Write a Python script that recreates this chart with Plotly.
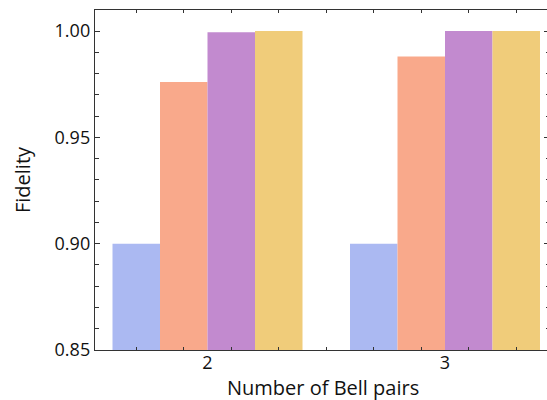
import plotly.graph_objects as go

# Fidelity per number of Bell pairs, one bar per method
bell_pairs = [2, 3]
series_names = ["Series 1", "Series 2", "Series 3", "Series 4"]
series_values = [
    [0.900, 0.900],
    [0.976, 0.988],
    [0.9994, 1.000],
    [1.000, 1.000],
]
series_colors = ["#ABB9F2", "#F9A98B", "#C28ACF", "#F0CC7A"]

y_range = [0.85, 1.0099]
x_range = [1.5263, 3.4295]

AXIS = "#333333"
TEXT = "#111111"
FONT = "Open Sans"

fig = go.Figure()
for name, vals, col in zip(series_names, series_values, series_colors):
    fig.add_trace(go.Bar(x=bell_pairs, y=vals, name=name,
                         marker=dict(color=col, line=dict(width=0)),
                         showlegend=False))

# empty trace so the overlay axes (labels below, ticks on the right) exist
fig.add_trace(go.Scatter(x=[], y=[], xaxis="x2", yaxis="y2", showlegend=False))

fig.update_layout(
    width=547, height=400,
    margin=dict(l=95, r=0, t=10, b=50),
    paper_bgcolor="white", plot_bgcolor="white",
    barmode="group", bargap=0.2, bargroupgap=0,
    font=dict(family=FONT, size=18, color=TEXT),
    xaxis=dict(
        range=x_range, tickmode="linear", tick0=1.7, dtick=0.2,
        ticks="inside", ticklen=3, tickwidth=1.2, tickcolor=AXIS,
        showticklabels=False, showgrid=False, zeroline=False,
        showline=True, linecolor=AXIS, linewidth=1.4, mirror="ticks",
    ),
    xaxis2=dict(
        overlaying="x", side="bottom", anchor="y", range=x_range,
        tickmode="array", tickvals=bell_pairs, ticktext=[str(v) for v in bell_pairs],
        ticks="", showline=False, showgrid=False, zeroline=False,
        tickfont=dict(size=18, color=TEXT),
    ),
    yaxis=dict(
        range=y_range, tickmode="linear", tick0=0.85, dtick=0.05, tickformat=".2f",
        ticks="inside", ticklen=5, tickwidth=1.2, tickcolor=AXIS,
        minor=dict(dtick=0.01, tick0=0.85, ticks="inside", ticklen=3.5,
                   tickwidth=1, tickcolor=AXIS, showgrid=False),
        showgrid=False, zeroline=False,
        showline=True, linecolor=AXIS, linewidth=1.4,
        tickfont=dict(size=18, color=TEXT),
        title=dict(text="Fidelity", font=dict(size=20, color=TEXT), standoff=18),
    ),
    yaxis2=dict(
        overlaying="y", side="right", anchor="x", range=y_range,
        tickmode="linear", tick0=0.85, dtick=0.05,
        ticks="inside", ticklen=3, tickwidth=1.2, tickcolor=AXIS,
        minor=dict(dtick=0.01, tick0=0.85, ticks="inside", ticklen=1.5,
                   tickwidth=1, tickcolor=AXIS, showgrid=False),
        showticklabels=False, showline=False, showgrid=False, zeroline=False,
    ),
    annotations=[dict(
        text="Number of Bell pairs", xref="paper", yref="paper",
        x=0.505, y=-0.109, xanchor="center", yanchor="middle", showarrow=False,
        font=dict(size=20, color=TEXT),
    )],
)

fig.write_html("out.html")
